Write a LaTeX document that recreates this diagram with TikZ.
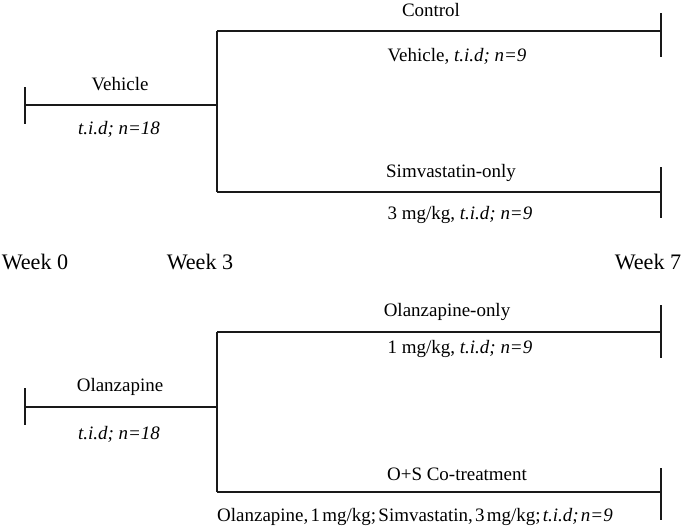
\documentclass[tikz,border=0pt]{standalone}
\usepackage{fontspec}
\setmainfont{Liberation Serif}
\usetikzlibrary{positioning, calc}
\definecolor{Line}{rgb}{0.1,0.1,0.1}
\tikzset{
    arm/.style={draw=Line, line width=1.1pt},
    lbl/.style={font=\fontsize{10.8}{12}\selectfont, inner sep=0pt},
    week/.style={font=\fontsize{12.6}{14}\selectfont, inner sep=0pt}
}

\begin{document}
\begin{tikzpicture}[x=0.02cm, y=-0.02cm]

    \useasboundingbox (0,0) rectangle (685,529);

    % top group: vehicle
    \coordinate (V0) at (25,105);
    \coordinate (V3) at (217,105);
    \coordinate (Ct) at (217,31);
    \coordinate (Cs) at (661,31);
    \coordinate (St) at (217,192);
    \coordinate (Ss) at (661,192);

    \draw[arm] (25,87) -- (25,124);          % start tick
    \draw[arm] (V0) -- (V3);
    \draw[arm] (Ct) -- (St);                 % split at week 3
    \draw[arm] (Ct) -- (Cs);
    \draw[arm] (St) -- (Ss);
    \draw[arm] (661,13) -- (661,57);          % end ticks
    \draw[arm] (661,167) -- (661,218);

    \node[lbl] (vehicle) at (120,84) {Vehicle};
    \node[lbl] (vehicleN) at (119,129) {\textit{t.i.d; n=18}};
    \node[lbl] (control) at (431,10) {Control};
    \node[lbl] (controlN) at (457,56) {Vehicle,\ \textit{t.i.d; n=9}};
    \node[lbl] (simva) at (451,173) {Simvastatin-only};
    \node[lbl] (simvaN) at (460,215) {3 mg/kg, \textit{t.i.d; n=9}};

    % weeks
    \node[week] (w0) at (35,262) {Week 0};
    \node[week] (w3) at (200,262) {Week 3};
    \node[week] (w7) at (648,262) {Week 7};

    % bottom group: olanzapine
    \coordinate (O0) at (25,407);
    \coordinate (O3) at (217,407);
    \coordinate (Ot) at (217,332);
    \coordinate (Os) at (661,332);
    \coordinate (Bt) at (217,492);
    \coordinate (Bs) at (661,492);

    \draw[arm] (25,388) -- (25,425);         % start tick
    \draw[arm] (O0) -- (O3);
    \draw[arm] (Ot) -- (Bt);                 % split at week 3
    \draw[arm] (Ot) -- (Os);
    \draw[arm] (Bt) -- (Bs);
    \draw[arm] (661,305) -- (661,358);        % end ticks
    \draw[arm] (661,468) -- (661,520);

    \node[lbl] (olanza) at (120,387) {Olanzapine};
    \node[lbl] (olanzaN) at (119,434) {\textit{t.i.d; n=18}};
    \node[lbl] (olonly) at (447,312) {Olanzapine-only};
    \node[lbl] (olonlyN) at (460,349) {1 mg/kg, \textit{t.i.d; n=9}};
    \node[lbl] (cotreat) at (457,474) {O+S Co-treatment};
    \node[lbl] (cotreatN) at (415,517)
        {\spaceskip=0.12em\relax Olanzapine, 1 mg/kg; Simvastatin, 3 mg/kg; \textit{t.i.d; n=9}};

\end{tikzpicture}
\end{document}
